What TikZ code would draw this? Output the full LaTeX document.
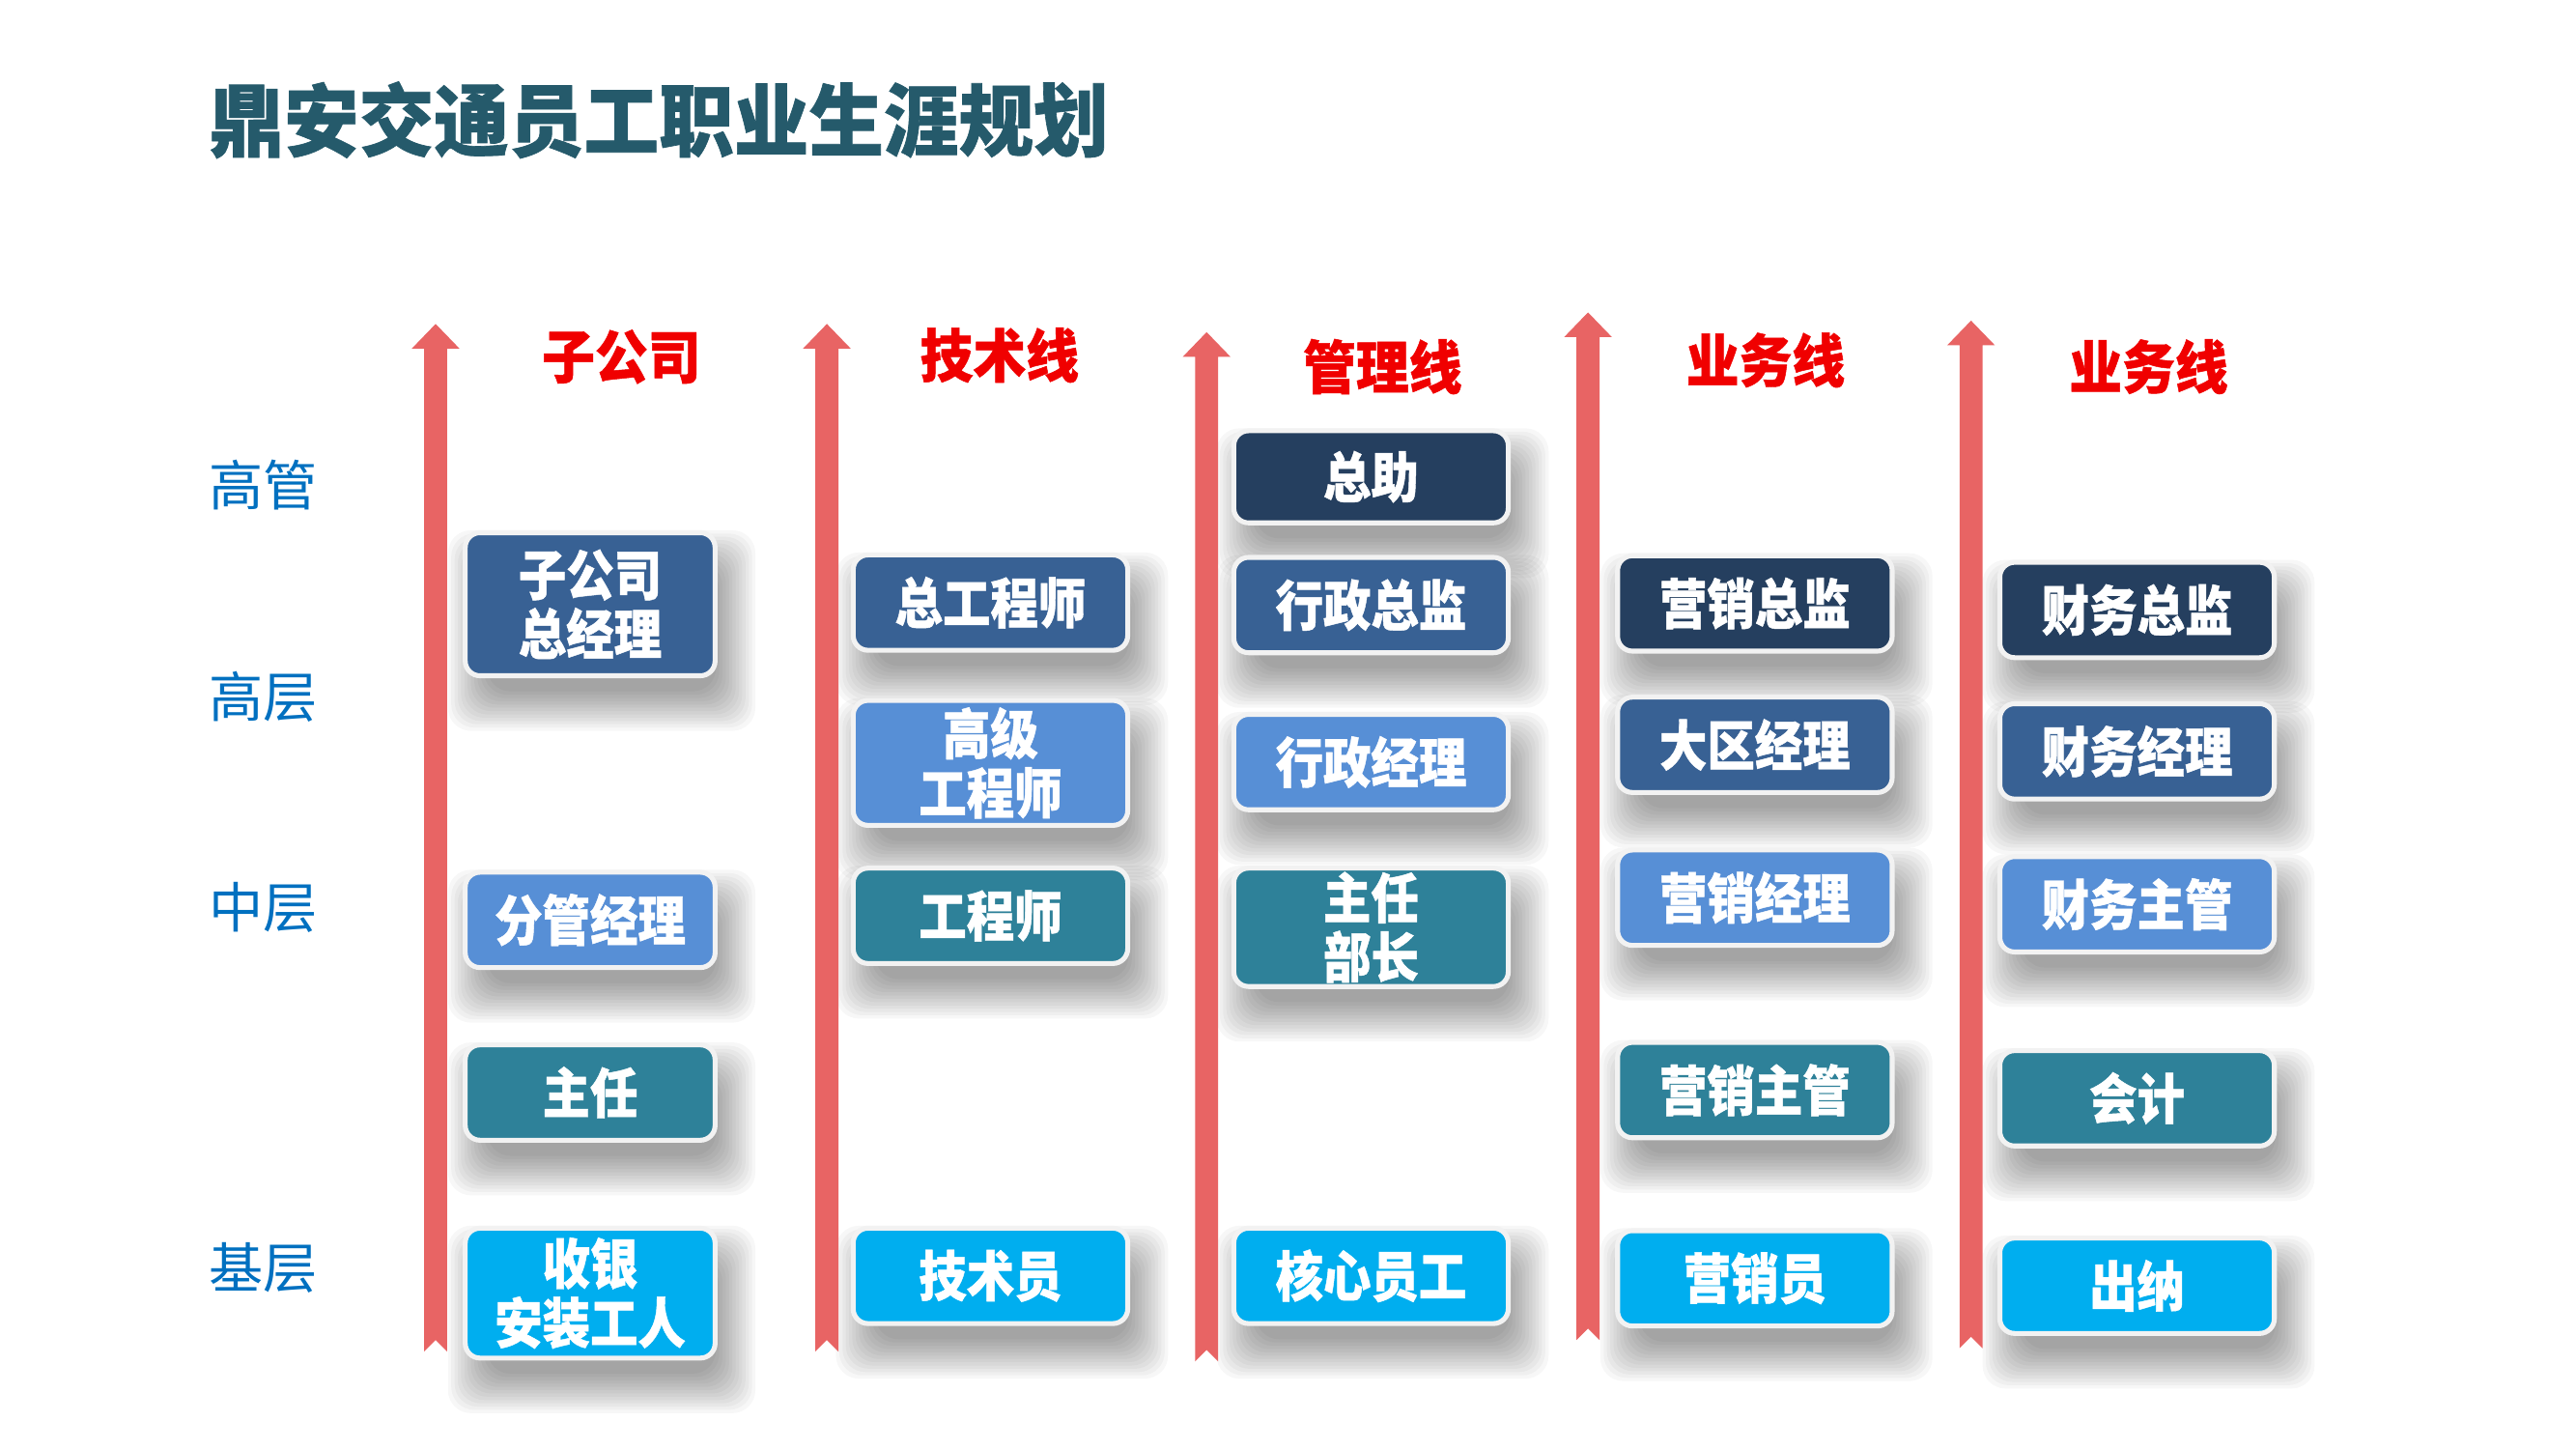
\documentclass[tikz,border=0pt]{standalone}
\usepackage{fontspec}
\usetikzlibrary{backgrounds}
\newfontfamily\boxfont{Noto Sans CJK SC}[FakeStretch=0.88, FakeBold=0.8]
\newfontfamily\headfont{Noto Sans CJK SC}[FakeStretch=0.92, FakeBold=0.8]
\newfontfamily\titlefont{Noto Sans CJK SC}[FakeStretch=0.95, FakeBold=0.8]
\newfontfamily\lblfont{Noto Sans CJK SC}
\definecolor{cNavy}{HTML}{253F5F}
\definecolor{cMid}{HTML}{386194}
\definecolor{cLight}{HTML}{578FD6}
\definecolor{cTeal}{HTML}{2E8199}
\definecolor{cCyan}{HTML}{00AEEF}
\definecolor{cArrow}{HTML}{E86464}
\definecolor{cTitle}{HTML}{255A6B}
\definecolor{cLevel}{HTML}{0070C0}
\definecolor{cHead}{HTML}{F00000}
\definecolor{cRim}{HTML}{F2F2F2}
\begin{document}
\begin{tikzpicture}[x=1pt,y=-1pt,
  posbox/.style={draw=cRim, line width=3pt, rounded corners=9pt, inner sep=0pt,
    text=white, font=\boxfont\bfseries\fontsize{33}{36}\selectfont, align=center,
    minimum height=58pt},
  c1/.style={posbox, minimum width=152pt},
  c2/.style={posbox, minimum width=167pt},
  headlbl/.style={text=cHead, font=\headfont\bfseries\fontsize{35}{38}\selectfont, inner sep=0pt},
  levellbl/.style={text=cLevel, font=\lblfont\fontsize{33}{36}\selectfont, inner sep=0pt},
  uparrow/.style={fill=cArrow, draw=none},
  shadowlayer/.style={fill=black, fill opacity=0.032, draw=none, rounded corners=14pt}
]
\useasboundingbox (0,0) rectangle (1567,881.4);

% title
\node[text=cTitle, font=\titlefont\bfseries\fontsize{48}{52}\selectfont, anchor=west, inner sep=0pt] (title) at (127,73) {鼎安交通员工职业生涯规划};

% level labels
\node[levellbl] (lv1) at (160,295) {高管};
\node[levellbl] (lv2) at (160,424) {高层};
\node[levellbl] (lv3) at (160,552) {中层};
\node[levellbl] (lv4) at (160,771) {基层};

% headers
\node[headlbl] (h1) at (378,217) {子公司};
\node[headlbl] (h2) at (608,216) {技术线};
\node[headlbl] (h3) at (841,223) {管理线};
\node[headlbl] (h4) at (1074,219) {业务线};
\node[headlbl] (h5) at (1307,223) {业务线};

% column 1
\node[c1, fill=cMid, minimum height=87pt] (a1) at (359,367.5) {子公司\\总经理};
\node[c1, fill=cLight] (a2) at (359,559.5) {分管经理};
\node[c1, fill=cTeal] (a3) at (359,664.5) {主任};
\node[c1, fill=cCyan, minimum height=79pt] (a4) at (359,786.5) {收银\\安装工人};

% column 2
\node[c2, fill=cMid] (b1) at (602.5,366.5) {总工程师};
\node[c2, fill=cLight, minimum height=76pt] (b2) at (602.5,464) {高级\\工程师};
\node[c2, fill=cTeal] (b3) at (602.5,557) {工程师};
\node[c2, fill=cCyan] (b4) at (602.5,776) {技术员};

% column 3
\node[c2, fill=cNavy, minimum height=56pt] (m1) at (834,290) {总助};
\node[c2, fill=cMid] (m2) at (834,368) {行政总监};
\node[c2, fill=cLight] (m3) at (834,463.5) {行政经理};
\node[c2, fill=cTeal, minimum height=72pt] (m4) at (834,564) {主任\\部长};
\node[c2, fill=cCyan] (m5) at (834,776) {核心员工};

% column 4
\node[c2, fill=cNavy] (s1) at (1067.5,367) {营销总监};
\node[c2, fill=cMid] (s2) at (1067.5,453) {大区经理};
\node[c2, fill=cLight] (s3) at (1067.5,546) {营销经理};
\node[c2, fill=cTeal] (s4) at (1067.5,663) {营销主管};
\node[c2, fill=cCyan] (s5) at (1067.5,777.5) {营销员};

% column 5
\node[c2, fill=cNavy] (f1) at (1300,371) {财务总监};
\node[c2, fill=cMid] (f2) at (1300,457) {财务经理};
\node[c2, fill=cLight] (f3) at (1300,550) {财务主管};
\node[c2, fill=cTeal] (f4) at (1300,668) {会计};
\node[c2, fill=cCyan] (f5) at (1300,782) {出纳};

\begin{pgfonlayer}{background}
  \fill[white] (0,0) rectangle (1567,881.4);
  % soft shadows under the boxes
  \foreach \n in {a1,a2,a3,a4,b1,b2,b3,b4,m1,m2,m3,m4,m5,s1,s2,s3,s4,s5,f1,f2,f3,f4,f5}{
    \foreach \e in {16,14,...,-8}{
      \fill[shadowlayer] ([shift={(7-\e,16-\e)}]\n.north west) rectangle ([shift={(7+\e,16+\e)}]\n.south east);
    }
  }
  % arrows
  \foreach \x/\t/\b in {265/197/822, 503/197/822, 734/202/828, 966/190/815, 1199/195/820}{
    \fill[uparrow] (\x,\t) -- (\x+14.5,\t+15) -- (\x+7,\t+15) -- (\x+7,\b) -- (\x,\b-7)
      -- (\x-7,\b) -- (\x-7,\t+15) -- (\x-14.5,\t+15) -- cycle;
  }
\end{pgfonlayer}
\end{tikzpicture}
\end{document}
